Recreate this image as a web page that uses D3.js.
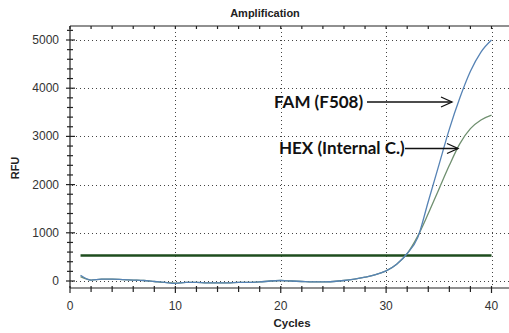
<!DOCTYPE html>
<html>
<head>
<meta charset="utf-8">
<script src="https://cdn.jsdelivr.net/npm/d3@7"></script>
<style>
  body { margin: 0; background: #fff; }
  svg { display: block; }
</style>
</head>
<body>
<div id="chart"></div>
<script>
// amplification curves, RFU per cycle
var cycles = [1,2,3,4,5,6,7,8,9,10,11,12,13,14,15,16,17,18,19,20,21,22,23,24,25,26,27,28,29,30,31,32,33,34,35,36,37,38,39,40];
var famRFU = [120,20,40,40,30,20,10,-10,-30,-50,-30,-30,-40,-40,-40,-30,-30,-20,0,10,0,-10,-20,-20,-10,10,40,80,130,210,350,570,900,1650,2400,3150,3800,4350,4750,5000];
var hexRFU = [90,20,40,40,30,20,10,-10,-30,-45,-30,-30,-40,-40,-40,-30,-30,-20,0,10,0,-10,-20,-20,-10,10,40,80,130,210,350,570,930,1400,1900,2400,2850,3160,3340,3440];
var threshold = 530;
var xTicks = [0,10,20,30,40];
var yTicks = [0,1000,2000,3000,4000,5000];

var W = 509, H = 333;
var svg = d3.select("#chart").append("svg").attr("width", W).attr("height", H);

var x = d3.scaleLinear().domain([0, 40]).range([70, 491.5]);
var y = d3.scaleLinear().domain([0, 5000]).range([281, 40]);
var plotTop = 26, plotBottom = 288, plotLeft = 70, plotRight = W;

// grid
var grid = svg.append("g").attr("stroke", "#444").attr("stroke-width", 1).attr("stroke-dasharray", "1,3");
grid.selectAll(".gy").data(yTicks).enter().append("line")
  .attr("x1", plotLeft + 2).attr("x2", plotRight)
  .attr("y1", function(d) { return Math.round(y(d)) + 0.5; })
  .attr("y2", function(d) { return Math.round(y(d)) + 0.5; });
grid.selectAll(".gx").data(xTicks.slice(1)).enter().append("line")
  .attr("y1", plotTop + 2).attr("y2", plotBottom)
  .attr("x1", function(d) { return Math.round(x(d)) + 0.5; })
  .attr("x2", function(d) { return Math.round(x(d)) + 0.5; });

// axes frame
var ax = svg.append("g").attr("stroke", "#222").attr("stroke-width", 1.2);
ax.append("line").attr("x1", plotLeft).attr("x2", plotRight).attr("y1", plotBottom).attr("y2", plotBottom);
ax.append("line").attr("x1", plotLeft).attr("x2", plotRight).attr("y1", plotTop).attr("y2", plotTop);
ax.append("line").attr("x1", plotLeft).attr("x2", plotLeft).attr("y1", plotTop).attr("y2", plotBottom);

var xMinor = d3.range(0, 42, 2);
ax.selectAll(".xt").data(xMinor).enter().append("line")
  .attr("x1", function(d) { return x(d); }).attr("x2", function(d) { return x(d); })
  .attr("y1", plotBottom - 2).attr("y2", function(d) { return d % 10 === 0 ? plotBottom + 5 : plotBottom + 4; });
ax.selectAll(".xtt").data(xMinor).enter().append("line")
  .attr("x1", function(d) { return x(d); }).attr("x2", function(d) { return x(d); })
  .attr("y1", plotTop).attr("y2", plotTop + 3);

var yMinor = d3.range(0, 5400, 200);
ax.selectAll(".yt").data(yMinor).enter().append("line")
  .attr("y1", function(d) { return y(d); }).attr("y2", function(d) { return y(d); })
  .attr("x1", function(d) { return d % 1000 === 0 ? plotLeft - 4 : plotLeft - 3; })
  .attr("x2", function(d) { return d % 1000 === 0 ? plotLeft + 5 : plotLeft + 3; });

// tick labels
svg.selectAll(".xl").data(xTicks).enter().append("text")
  .attr("x", function(d) { return x(d); }).attr("y", 310)
  .attr("text-anchor", "middle").attr("font-family", "Liberation Sans, Arial, sans-serif")
  .attr("font-size", 12).attr("fill", "#333").text(function(d) { return d; });
svg.selectAll(".yl").data(yTicks).enter().append("text")
  .attr("x", 59).attr("y", function(d) { return y(d) + 4; })
  .attr("text-anchor", "end").attr("font-family", "Liberation Sans, Arial, sans-serif")
  .attr("font-size", 12).attr("fill", "#333").text(function(d) { return d; });

// titles
svg.append("text").attr("x", 265).attr("y", 17).attr("text-anchor", "middle")
  .attr("font-family", "Liberation Sans, Arial, sans-serif").attr("font-weight", "bold")
  .attr("font-size", 11).attr("fill", "#222").text("Amplification");
svg.append("text").attr("x", 292).attr("y", 327).attr("text-anchor", "middle")
  .attr("font-family", "Liberation Sans, Arial, sans-serif").attr("font-weight", "bold")
  .attr("font-size", 11.5).attr("fill", "#222").text("Cycles");
svg.append("text").attr("transform", "translate(19,168) rotate(-90)").attr("text-anchor", "middle")
  .attr("font-family", "Liberation Sans, Arial, sans-serif").attr("font-weight", "bold")
  .attr("font-size", 11).attr("fill", "#222").text("RFU");

// threshold
svg.append("line").attr("x1", x(1)).attr("x2", x(40))
  .attr("y1", y(threshold)).attr("y2", y(threshold))
  .attr("stroke", "#1e4d1e").attr("stroke-width", 2.5);

// curves
var line = d3.line().curve(d3.curveMonotoneX)
  .x(function(d) { return x(d[0]); }).y(function(d) { return y(d[1]); });
svg.append("path").datum(d3.zip(cycles, hexRFU)).attr("d", line)
  .attr("fill", "none").attr("stroke", "#6f8f6f").attr("stroke-width", 1.3);
svg.append("path").datum(d3.zip(cycles, famRFU)).attr("d", line)
  .attr("fill", "none").attr("stroke", "#5683b5").attr("stroke-width", 1.3);

// annotations
function arrow(x1, x2, yy) {
  var g = svg.append("g").attr("stroke", "#111").attr("stroke-width", 1.3).attr("fill", "none");
  g.append("line").attr("x1", x1).attr("x2", x2).attr("y1", yy).attr("y2", yy);
  g.append("path").attr("d", "M" + (x2 - 11) + "," + (yy - 5) + "L" + x2 + "," + yy + "L" + (x2 - 11) + "," + (yy + 5));
}
svg.append("text").attr("x", 274).attr("y", 108)
  .attr("font-family", "Lato, Liberation Sans, sans-serif").attr("font-weight", "bold")
  .attr("font-size", 17).attr("fill", "#111").text("FAM (F508)");
arrow(367, 452, 102);
svg.append("text").attr("x", 279).attr("y", 154)
  .attr("font-family", "Lato, Liberation Sans, sans-serif").attr("font-weight", "bold")
  .attr("font-size", 17).attr("fill", "#111").text("HEX (Internal C.)");
arrow(405, 458, 148.5);
</script>
</body>
</html>
